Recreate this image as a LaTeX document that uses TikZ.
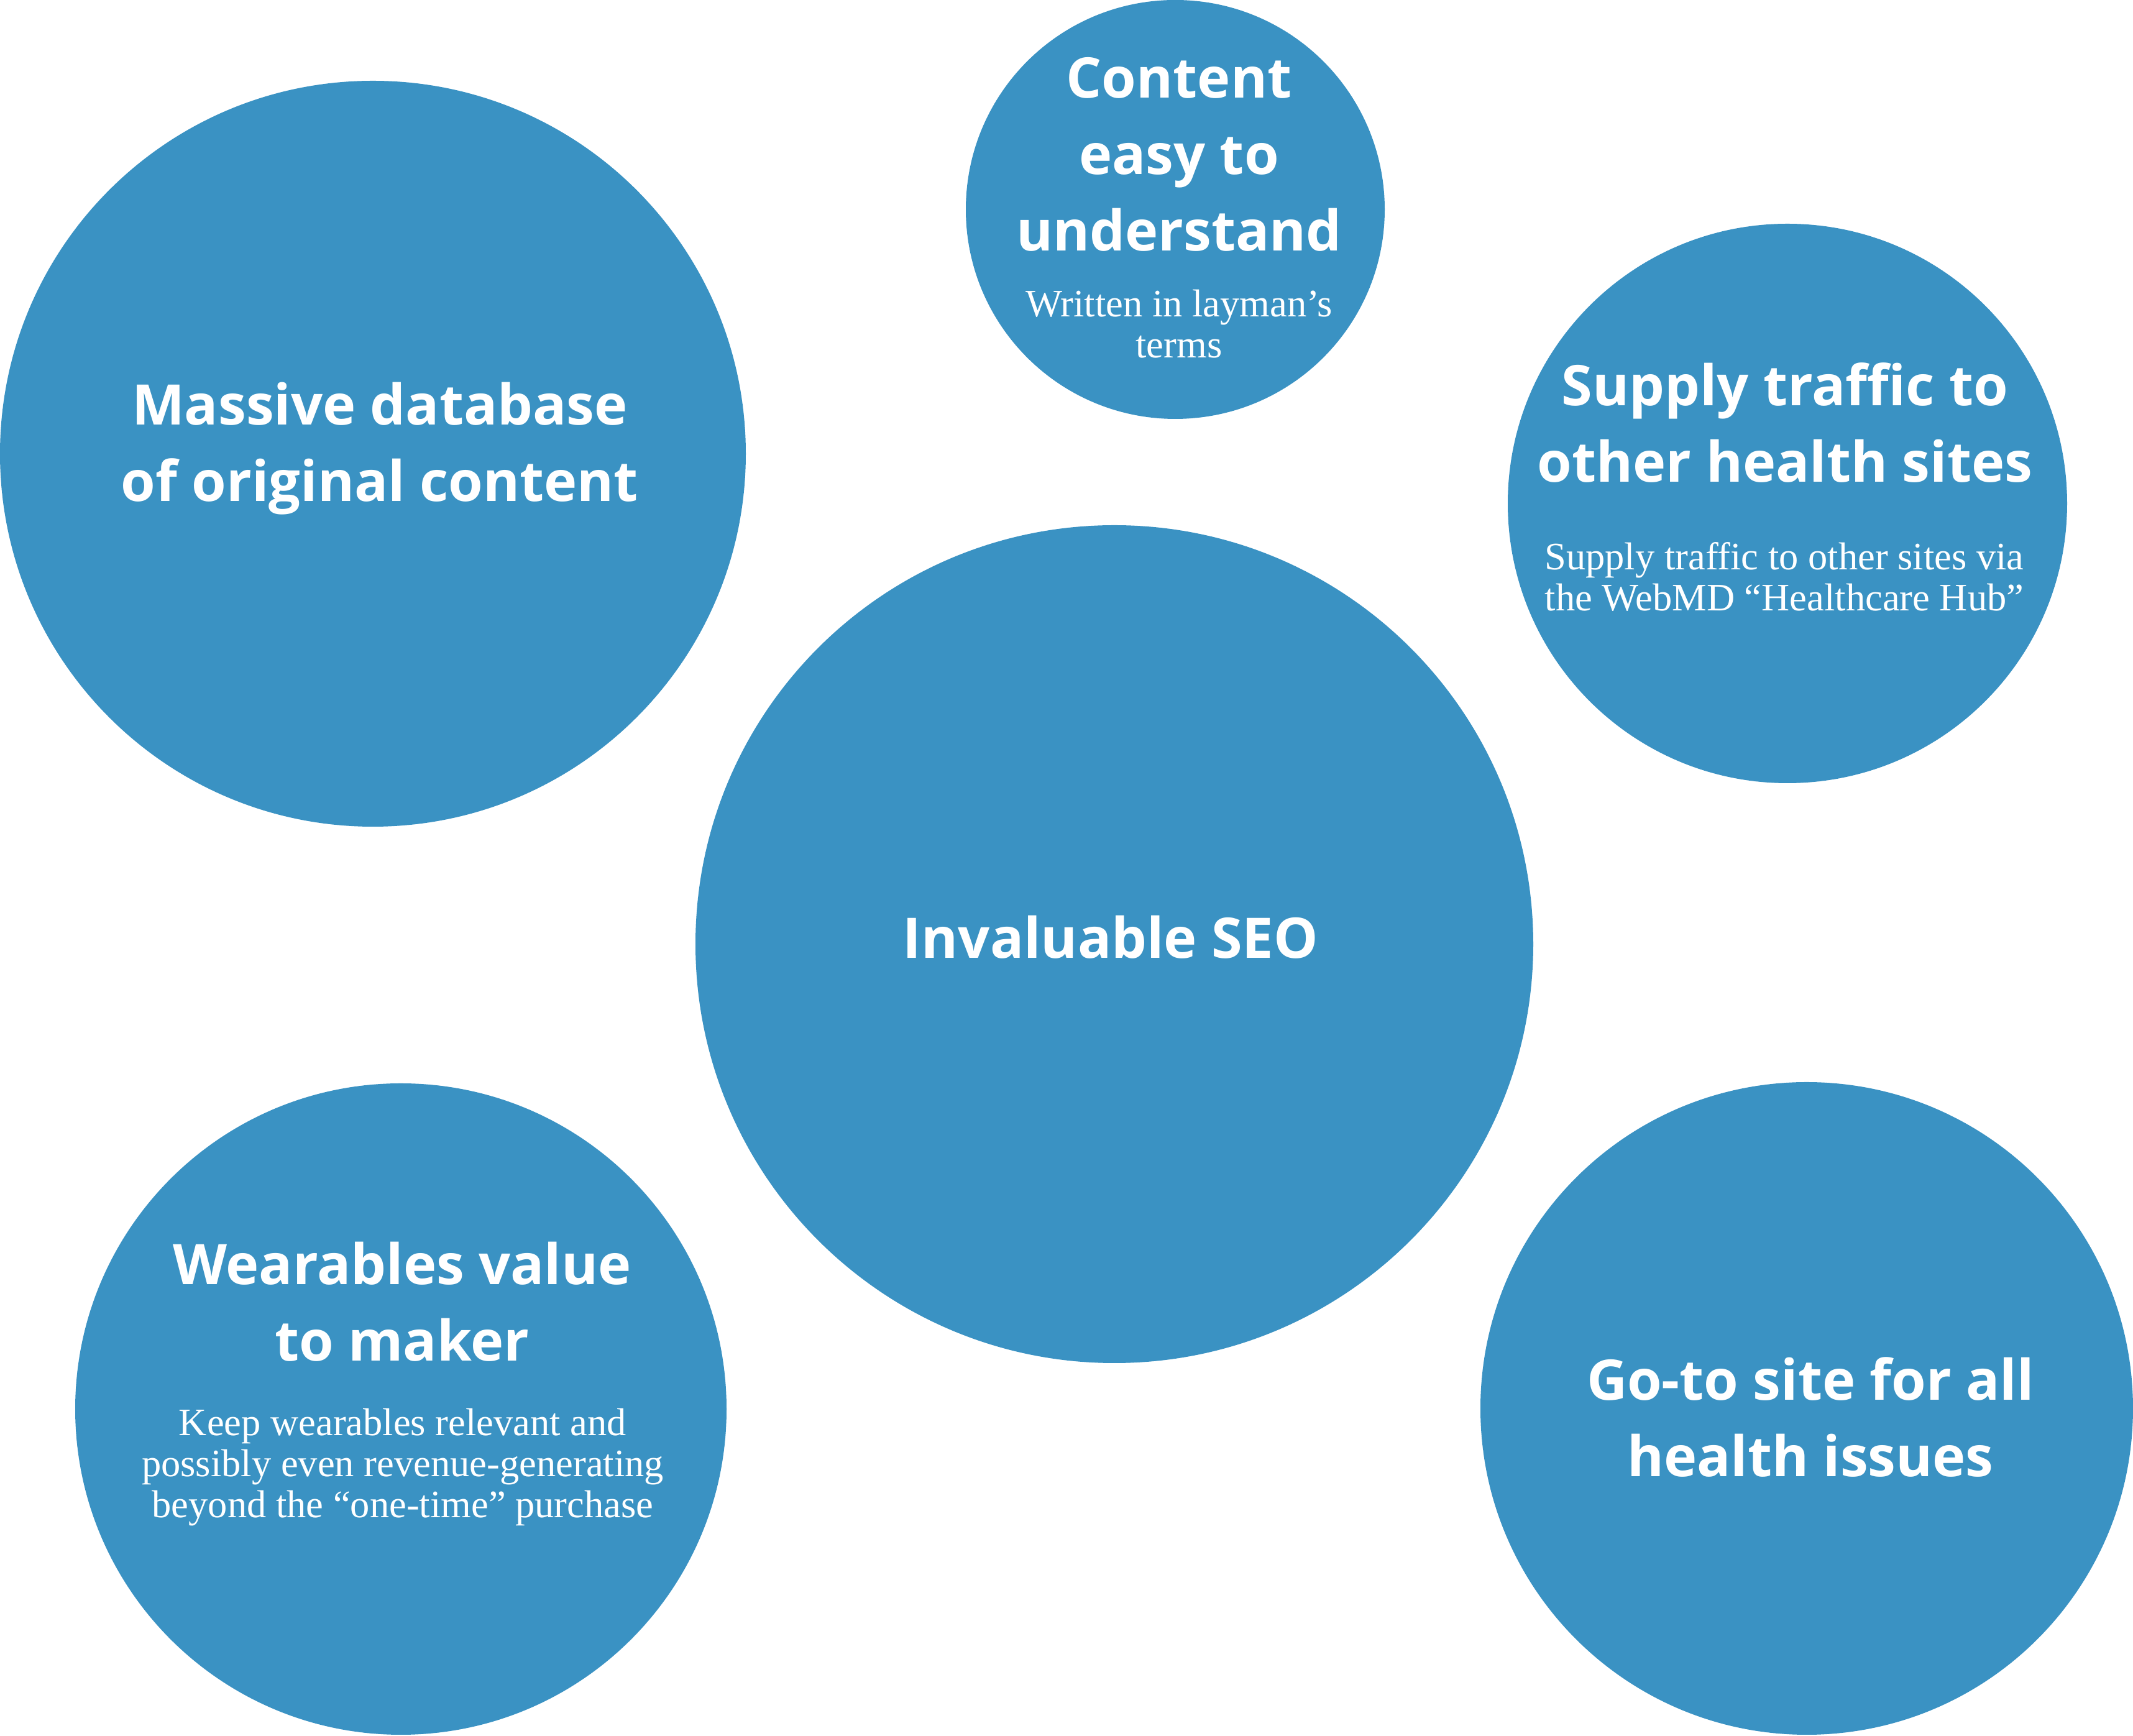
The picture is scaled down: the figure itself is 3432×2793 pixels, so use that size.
\documentclass[tikz,border=0pt]{standalone}
\usepackage{fontspec}
\usepackage{xcolor}
\newfontfamily\headfam{Open Sans}
\newfontfamily\blurbfam{Liberation Serif}
\definecolor{bubbleblue}{RGB}{58,146,195}

\begin{document}
\begin{tikzpicture}[x=0.2pt,y=-0.2pt]
\tikzset{bubble/.style={circle,fill=bubbleblue,inner sep=0pt,minimum size=#1*0.4pt}}
\tikzset{headline/.style={text=white,anchor=base,inner sep=0pt,font=\headfam\bfseries\fontsize{18}{24.6}\selectfont}}
\tikzset{blurb/.style={text=white,anchor=base,inner sep=0pt,font=\blurbfam\fontsize{12.5}{13.2}\selectfont}}

\useasboundingbox (0,0) rectangle (3432,2793);

% bubbles
\node[bubble=600] (massive) at (600,730) {};
\node[bubble=337] (content) at (1891,337) {};
\node[bubble=450] (supply) at (2876,810) {};
\node[bubble=674] (seo) at (1793,1519) {};
\node[bubble=524] (wearables) at (645,2267) {};
\node[bubble=525] (goto) at (2907,2266) {};

% texts
\node[headline] (massive-title) at (611,684) {\begin{tabular}[t]{@{}c@{}}Massive database\\of original content\end{tabular}};
\node[headline] (content-title) at (1897,158) {\begin{tabular}[t]{@{}c@{}}Content\\easy to\\understand\end{tabular}};
\node[blurb] (content-note) at (1897,510) {\begin{tabular}[t]{@{}c@{}}Written in layman’s\\terms\end{tabular}};
\node[headline] (supply-title) at (2872,653) {\begin{tabular}[t]{@{}c@{}}Supply traffic to\\other health sites\end{tabular}};
\node[blurb] (supply-note) at (2871,917) {\begin{tabular}[t]{@{}c@{}}Supply traffic to other sites via\\the WebMD “Healthcare Hub”\end{tabular}};
\node[headline] (seo-title) at (1787,1542) {Invaluable SEO};
\node[headline] (wearables-title) at (647,2067) {\begin{tabular}[t]{@{}c@{}}Wearables value\\to maker\end{tabular}};
\node[blurb] (wearables-note) at (648,2310) {\begin{tabular}[t]{@{}c@{}}Keep wearables relevant and\\possibly even revenue-generating\\beyond the “one-time” purchase\end{tabular}};
\node[headline] (goto-title) at (2913,2253) {\begin{tabular}[t]{@{}c@{}}Go-to site for all\\health issues\end{tabular}};

\end{tikzpicture}
\end{document}
